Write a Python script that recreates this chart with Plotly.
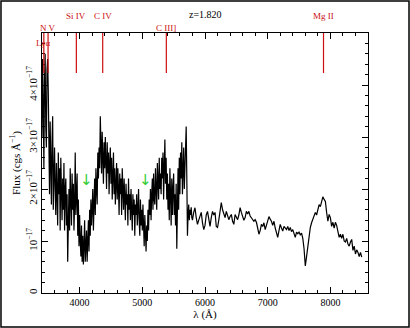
import plotly.graph_objects as go

# ---------------- data (flux in units of 1e-17 cgs/Å) ----------------
blue_start, blue_step = 3400, 10
blue_flux = [
    3.0, 4.5, 3.6, 2.4, 4.1, 4.6, 3.2, 2.8, 4.3, 4.5,    # 3400
    3.9, 2.6, 1.9, 3.3, 2.2, 1.7, 2.9, 3.4, 1.6, 2.5,    # 3500
    2.8, 2.0, 1.5, 2.5, 2.1, 1.3, 2.7, 1.9, 2.4, 1.2,    # 3600
    2.6, 1.8, 1.4, 2.2, 1.6, 2.5, 1.2, 2.0, 2.2, 1.3,    # 3700
    1.9, 0.6, 1.6, 2.0, 1.2, 2.4, 1.8, 1.3, 2.3, 1.6,    # 3800
    2.1, 1.2, 1.7, 2.7, 1.5, 1.9, 2.3, 1.1, 1.8, 0.9,    # 3900
    1.5, 1.0, 0.7, 1.3, 0.6, 1.1, 0.55, 0.9, 1.4, 0.6,   # 4000
    0.9, 1.2, 0.6, 1.0, 1.4, 0.8, 1.6, 1.1, 1.8, 1.3,    # 4100
    1.6, 2.0, 1.2, 1.8, 2.2, 1.5, 2.4, 2.0, 1.7, 2.7,    # 4200
    2.2, 2.8, 2.4, 3.4, 2.6, 2.3, 3.1, 2.5, 2.1, 2.9,    # 4300
    2.4, 3.0, 2.6, 2.0, 2.9, 2.3, 2.7, 1.9, 2.5, 2.8,    # 4400
    2.1, 2.6, 1.8, 2.3, 2.7, 1.9, 2.4, 1.7, 2.2, 2.5,    # 4500
    1.8, 2.4, 2.0, 1.5, 2.3, 1.9, 2.2, 1.5, 2.4, 1.8,    # 4600
    1.6, 2.2, 1.8, 1.4, 2.1, 1.7, 1.9, 1.3, 2.2, 1.6,    # 4700
    1.9, 1.4, 2.0, 1.7, 1.2, 1.9, 1.5, 1.8, 1.1, 1.7,    # 4800
    1.5, 1.9, 1.3, 1.6, 2.0, 1.4, 1.1, 1.8, 1.3, 1.6,    # 4900
    1.2, 1.7, 1.4, 0.9, 1.5, 1.1, 0.8, 1.3, 1.0, 1.6,    # 5000
    1.2, 1.8, 1.5, 2.0, 1.4, 1.9, 2.2, 1.6, 2.3, 1.8,    # 5100
    1.7, 2.4, 2.0, 1.6, 2.5, 2.1, 1.8, 2.6, 2.0, 2.3,    # 5200
    1.9, 2.6, 2.2, 2.7, 1.8, 2.4, 2.95, 2.1, 2.6, 1.8,   # 5300
    2.3, 1.6, 2.1, 1.4, 2.4, 1.9, 1.3, 2.2, 1.5, 2.0,    # 5400
    2.3, 1.5, 1.9, 1.3, 2.1, 0.85, 1.8, 2.4, 1.6, 2.6,   # 5500
    1.9, 2.7, 2.2, 2.9, 1.9, 2.5, 2.8, 2.0, 2.6, 3.0,    # 5600
    3.2, 2.2, 1.1, 1.5, 1.7, 1.4, 1.6, 1.5, 1.65, 1.45,  # 5700
]

red_start, red_step = 5800, 20
red_flux = [
    1.40, 1.55, 1.64, 1.45, 1.32,   # 5800
    1.40, 1.50, 1.55, 1.35, 1.22,   # 5900
    1.30, 1.50, 1.57, 1.42, 1.28,   # 6000
    1.45, 1.57, 1.50, 1.55, 1.28,   # 6100
    1.26, 1.40, 1.55, 1.74, 1.60,   # 6200
    1.51, 1.45, 1.57, 1.50, 1.41,   # 6300
    1.47, 1.51, 1.38, 1.32, 1.51,   # 6400
    1.45, 1.41, 1.50, 1.64, 1.55,   # 6500
    1.48, 1.40, 1.45, 1.57, 1.52,   # 6600
    1.57, 1.48, 1.45, 1.42, 1.38,   # 6700
    1.41, 1.36, 1.25, 1.13, 1.20,   # 6800
    1.32, 1.28, 1.35, 1.22, 1.30,   # 6900
    1.38, 1.47, 1.42, 1.38, 1.30,   # 7000
    1.38, 1.25, 1.15, 1.07, 1.20,   # 7100
    1.32, 1.25, 1.19, 1.28, 1.24,   # 7200
    1.22, 1.28, 1.20, 1.26, 1.18,   # 7300
    1.22, 1.12, 1.07, 1.17, 1.14,   # 7400
    1.17, 1.12, 1.15, 1.05, 0.85,   # 7500
    0.52, 0.70, 0.90, 1.15, 1.26,   # 7600
    1.35, 1.41, 1.48, 1.55, 1.50,   # 7700
    1.62, 1.70, 1.66, 1.78, 1.85,   # 7800
    1.80, 1.76, 1.55, 1.38, 1.51,   # 7900
    1.45, 1.28, 1.36, 1.25, 1.36,   # 8000
    1.30, 1.15, 1.07, 1.13, 1.05,   # 8100
    1.13, 1.00, 0.98, 1.05, 0.94,   # 8200
    0.90, 0.98, 1.03, 0.82, 0.90,   # 8300
    0.75, 0.83, 0.78, 0.70, 0.78,   # 8400
    0.69,                           # 8500
]

redshift = 1.820
line_names = ["Lyα", "N V", "Si IV", "C IV", "C III]", "Mg II"]
line_rest = [1216, 1240, 1400, 1549, 1909, 2798]
line_label_y = [0.962, 1.019, 1.065, 1.065, 1.019, 1.065]   # paper coords

arrow_waves = [4103, 5045]
arrow_flux = 2.18

y_tickvals = [0, 1, 2, 3, 4]
y_ticktext = ["0", "10<sup>−17</sup>", "2×10<sup>−17</sup>",
              "3×10<sup>−17</sup>", "4×10<sup>−17</sup>"]
x_tickvals = [4000, 5000, 6000, 7000, 8000]

# ---------------- build ----------------
wave = [blue_start + i * blue_step for i in range(len(blue_flux))] + \
       [red_start + i * red_step for i in range(len(red_flux))]
flux = blue_flux + red_flux

FONT = "Liberation Serif"
RED = "#cc1010"
fig = go.Figure()
fig.add_trace(go.Scatter(x=wave, y=flux, mode="lines",
                         line=dict(color="black", width=1.2), showlegend=False,
                         hoverinfo="skip"))

shapes = []
annotations = []
for name, rest, ly in zip(line_names, line_rest, line_label_y):
    obs = rest * (1 + redshift)
    shapes.append(dict(type="line", xref="x", yref="paper", x0=obs, x1=obs,
                       y0=0.846, y1=1.0, line=dict(color=RED, width=1.2)))
    annotations.append(dict(x=obs, y=ly, xref="x", yref="paper", text=name,
                            showarrow=False, font=dict(family=FONT, size=9, color=RED),
                            xanchor="center", yanchor="middle"))

annotations.append(dict(x=0.5, y=1.073, xref="paper", yref="paper",
                        text="z=%.3f" % redshift, showarrow=False,
                        font=dict(family=FONT, size=10, color="black"),
                        xanchor="center", yanchor="middle"))

for aw in arrow_waves:
    annotations.append(dict(x=aw, y=arrow_flux, xref="x", yref="y", text="↓",
                            showarrow=False,
                            font=dict(family="DejaVu Sans", size=15, color="#33cc33"),
                            xanchor="center", yanchor="middle"))

# outer frame around whole image
shapes.append(dict(type="rect", xref="paper", yref="paper",
                   x0=-0.1258, x1=1.1258, y0=-0.1308, y1=1.123,
                   line=dict(color="black", width=1.5)))

axis_common = dict(showline=True, linecolor="black", linewidth=1, mirror="allticks",
                   ticks="inside", ticklen=6, tickcolor="black", showgrid=False,
                   zeroline=False, automargin=False)

fig.update_xaxes(range=[3400, 8600], tickvals=x_tickvals,
                 tickfont=dict(family=FONT, size=10, color="black"),
                 minor=dict(ticks="inside", ticklen=3, dtick=200, tick0=4000,
                            tickcolor="black", showgrid=False),
                 title=dict(text="λ (Å)", font=dict(family=FONT, size=11, color="black"),
                            standoff=2),
                 **axis_common)
fig.update_yaxes(range=[0, 5], tickvals=y_tickvals, ticktext=y_ticktext, tickangle=-90,
                 tickfont=dict(family=FONT, size=11, color="black"),
                 minor=dict(ticks="inside", ticklen=3, dtick=0.2, tick0=0,
                            tickcolor="black", showgrid=False),
                 title=dict(text="Flux (cgs Å<sup>−1</sup>)",
                            font=dict(family=FONT, size=11, color="black"), standoff=2),
                 **axis_common)

fig.update_layout(width=410, height=328, margin=dict(l=42, r=42, t=33, b=35),
                  paper_bgcolor="white", plot_bgcolor="white",
                  shapes=shapes, annotations=annotations)

fig.write_html("out.html", config={"displayModeBar": False},
               post_script="document.body.style.margin='0';"
                           "document.body.style.overflow='hidden';")
